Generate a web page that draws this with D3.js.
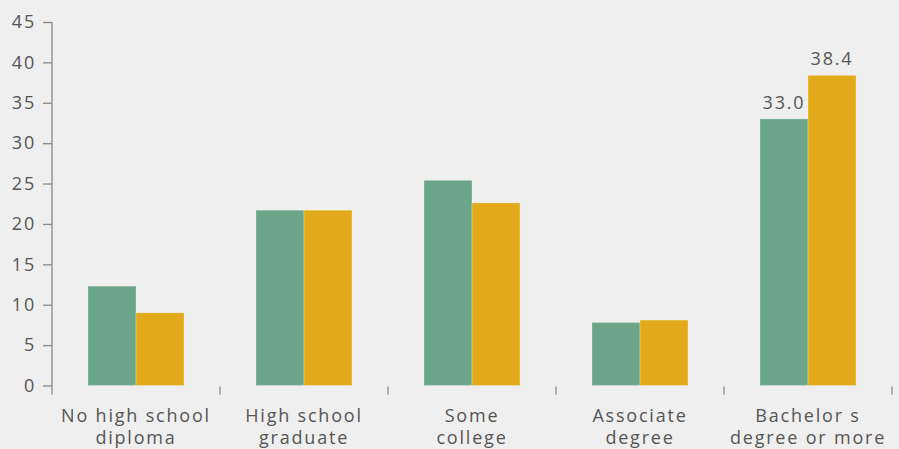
<!DOCTYPE html>
<html>
<head>
<meta charset="utf-8">
<script src="https://cdn.jsdelivr.net/npm/d3@7"></script>
<style>
  body { margin: 0; background: #efefef; }
  text { font-family: "Open Sans", sans-serif; fill: #555; }
</style>
</head>
<body>
<div id="chart"></div>
<script>
// Data
var categories = ["No high school|diploma", "High school|graduate", "Some|college", "Associate|degree", "Bachelor s|degree or more"];
var seriesA = [12.3, 21.7, 25.4, 7.8, 33.0];
var seriesB = [9.0, 21.7, 22.6, 8.1, 38.4];
var yTicks = [0, 5, 10, 15, 20, 25, 30, 35, 40, 45];
var labelled = [4];

var svgWidth = 899;
var svgHeight = 449;

var margin = { top: 22, right: 7, bottom: 63.5, left: 52 };
var width = svgWidth - margin.left - margin.right;
var height = svgHeight - margin.top - margin.bottom;

var fontSize = "18px";
var spacing = "1.8px";

var svg = d3.select("#chart")
  .append("svg")
  .attr("width", svgWidth)
  .attr("height", svgHeight);

svg.append("rect")
  .attr("width", svgWidth)
  .attr("height", svgHeight)
  .attr("fill", "#efefef");

var chartGroup = svg.append("g")
  .attr("transform", `translate(${margin.left}, ${margin.top})`);

var x0 = d3.scaleBand()
  .domain(categories)
  .range([0, 840]);

var x1 = d3.scaleBand()
  .domain(["a", "b"])
  .range([36, 168 - 36]);

var y = d3.scaleLinear()
  .domain([0, 45])
  .range([height, 0]);

// y axis
var leftAxis = d3.axisLeft(y).tickValues(yTicks).tickSize(9).tickPadding(7);
var yAxis = chartGroup.append("g").call(leftAxis);
yAxis.select(".domain").remove();
yAxis.selectAll("line").attr("stroke", "#888").attr("stroke-width", 1.3);
yAxis.selectAll("text")
  .style("font-size", fontSize)
  .style("letter-spacing", spacing)
  .attr("fill", "#555");

chartGroup.append("line")
  .attr("x1", 0).attr("x2", 0)
  .attr("y1", 0).attr("y2", height + 9)
  .attr("stroke", "#888")
  .attr("stroke-width", 1.3);

// x axis ticks at band boundaries
chartGroup.selectAll(".xtick")
  .data(categories)
  .enter()
  .append("line")
  .attr("class", "xtick")
  .attr("x1", d => x0(d) + x0.bandwidth())
  .attr("x2", d => x0(d) + x0.bandwidth())
  .attr("y1", height + 1)
  .attr("y2", height + 9)
  .attr("stroke", "#888")
  .attr("stroke-width", 1.3);

// bars
var groups = chartGroup.selectAll(".grp")
  .data(categories)
  .enter()
  .append("g")
  .attr("transform", d => `translate(${x0(d)}, 0)`);

groups.append("rect")
  .attr("x", x1("a"))
  .attr("width", x1.bandwidth())
  .attr("y", (d, i) => y(seriesA[i]))
  .attr("height", (d, i) => height - y(seriesA[i]))
  .attr("fill", "#6aa589")
  .attr("stroke", "rgba(255,255,255,0.25)");

groups.append("rect")
  .attr("x", x1("b"))
  .attr("width", x1.bandwidth())
  .attr("y", (d, i) => y(seriesB[i]))
  .attr("height", (d, i) => height - y(seriesB[i]))
  .attr("fill", "#e2aa1a")
  .attr("stroke", "rgba(255,255,255,0.25)");

// value labels
labelled.forEach(function(i) {
  var g = chartGroup.append("g").attr("transform", `translate(${x0(categories[i])}, 0)`);
  g.append("text")
    .attr("x", x1("a") + x1.bandwidth() / 2)
    .attr("y", y(seriesA[i]) - 10)
    .attr("text-anchor", "middle")
    .style("font-size", fontSize)
    .style("letter-spacing", spacing)
    .text(seriesA[i].toFixed(1));
  g.append("text")
    .attr("x", x1("b") + x1.bandwidth() / 2)
    .attr("y", y(seriesB[i]) - 10)
    .attr("text-anchor", "middle")
    .style("font-size", fontSize)
    .style("letter-spacing", spacing)
    .text(seriesB[i].toFixed(1));
});

// category labels
var labels = chartGroup.selectAll(".xlabel")
  .data(categories)
  .enter()
  .append("text")
  .attr("class", "xlabel")
  .attr("text-anchor", "middle")
  .attr("transform", d => `translate(${x0(d) + x0.bandwidth() / 2}, ${height + 36})`)
  .style("font-size", fontSize)
  .style("letter-spacing", spacing);

labels.each(function(d) {
  var parts = d.split("|");
  var t = d3.select(this);
  parts.forEach(function(p, k) {
    t.append("tspan")
      .attr("x", 0)
      .attr("dy", k === 0 ? 0 : 22)
      .text(p);
  });
});
</script>
</body>
</html>
